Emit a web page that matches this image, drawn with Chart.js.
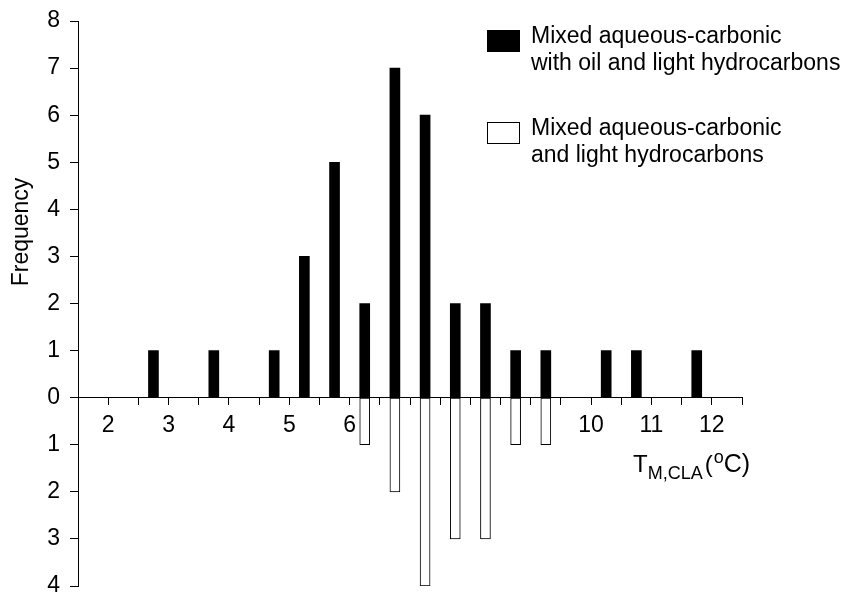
<!DOCTYPE html>
<html>
<head>
<meta charset="utf-8">
<script src="https://cdn.jsdelivr.net/npm/chart.js"></script>
<style>
  body { margin: 0; background: #fff; }
  #wrap { width: 844px; height: 596px; }
</style>
</head>
<body>
<div id="wrap"><canvas id="chart" width="844" height="596"></canvas></div>
<script>
// bin centres (deg C) and counts
const oilBins = [2.75, 3.75, 4.75, 5.25, 5.75, 6.25, 6.75, 7.25, 7.75, 8.25, 8.75, 9.25, 10.25, 10.75, 11.75]
const oilCounts = [1, 1, 1, 3, 5, 2, 7, 6, 2, 2, 1, 1, 1, 1, 1]
const lightBins = [6.25, 6.75, 7.25, 7.75, 8.25, 8.75, 9.25]
const lightCounts = [1, 2, 4, 3, 3, 1, 1]   // plotted downwards
const xTickLabels = [2, 3, 4, 5, 6, 10, 11, 12]
const legendLabels = [
  "Mixed aqueous-carbonic\nwith oil and light hydrocarbons",
  "Mixed aqueous-carbonic\nand light hydrocarbons",
]

const FONT = "'Liberation Sans', Arial, sans-serif"
Chart.defaults.font.family = FONT
Chart.defaults.font.size = 23
Chart.defaults.color = "#000"

const oilData = oilBins.map((x, i) => ({ x: x, y: oilCounts[i] }))
const lightData = lightBins.map((x, i) => ({ x: x, y: -lightCounts[i] }))

// legend + axis titles drawn by hand
const extras = {
  id: "extras",
  afterDraw(chart) {
    const ctx = chart.ctx
    ctx.save()
    ctx.fillStyle = "#000"

    // legend
    const rows = [30, 122]
    chart.data.datasets.forEach((ds, i) => {
      const top = rows[i]
      ctx.fillStyle = ds.backgroundColor
      ctx.fillRect(487, top, 33, 22)
      ctx.strokeStyle = "#000"
      ctx.lineWidth = 1
      ctx.strokeRect(487.5, top + 0.5, 32, 21)
      ctx.fillStyle = "#000"
      ctx.font = "23px " + FONT
      ctx.textAlign = "left"
      ctx.textBaseline = "alphabetic"
      legendLabels[i].split("\n").forEach((line, j) => {
        ctx.fillText(line, 531, top + 13 + j * 27)
      })
    })

    // y title
    ctx.save()
    ctx.translate(22, 232)
    ctx.rotate(-Math.PI / 2)
    ctx.textAlign = "center"
    ctx.textBaseline = "middle"
    ctx.font = "23px " + FONT
    ctx.fillText("Frequency", 0, 0)
    ctx.restore()

    // x title: T_M,CLA (°C)
    let x = 633
    const base = 472
    ctx.textAlign = "left"
    ctx.textBaseline = "alphabetic"
    const parts = [
      ["T", 24, 0, 0],
      ["M,CLA", 18, 7, 2],
      ["(", 24, 0, 1],
      ["o", 18, -9, 0],
      ["C)", 25, 0, 0],
    ]
    parts.forEach(p => {
      ctx.font = p[1] + "px " + FONT
      ctx.fillText(p[0], x, base + p[2])
      x += ctx.measureText(p[0]).width + p[3]
    })
    ctx.restore()
  }
}

new Chart(document.getElementById("chart"), {
  type: "bar",
  data: {
    datasets: [
      {
        label: legendLabels[0],
        data: oilData,
        backgroundColor: "#000",
        borderColor: "#000",
        borderWidth: 0,
        barThickness: 10,
        grouped: false,
      },
      {
        label: legendLabels[1],
        data: lightData,
        backgroundColor: "#fff",
        borderColor: "#000",
        borderWidth: 1,
        borderSkipped: false,
        barThickness: 10,
        grouped: false,
      },
    ],
  },
  options: {
    responsive: false,
    animation: false,
    layout: { padding: { left: 0, top: 21, right: 102, bottom: 10 } },
    plugins: {
      legend: { display: false },
      tooltip: { enabled: false },
    },
    scales: {
      x: {
        type: "linear",
        position: { y: 0 },
        offset: false,
        min: 1.5,
        max: 12.5,
        grid: { drawOnChartArea: false, offset: false, tickLength: 7, color: "#000" },
        border: { color: "#000", width: 1 },
        ticks: {
          stepSize: 0.5,
          autoSkip: false,
          maxRotation: 0,
          padding: 7,
          callback: v => (xTickLabels.includes(v) ? String(v) : ""),
        },
      },
      y: {
        min: -4,
        max: 8,
        grid: { drawOnChartArea: false, tickLength: 8, color: "#000" },
        border: { color: "#000", width: 1 },
        ticks: {
          stepSize: 1,
          padding: 10,
          callback: v => String(Math.abs(v)),
        },
        afterFit(scale) {
          scale.width = 78
          scale.paddingTop = 0
          scale.paddingBottom = 0
        },
      },
    },
  },
  plugins: [extras],
})
</script>
</body>
</html>
